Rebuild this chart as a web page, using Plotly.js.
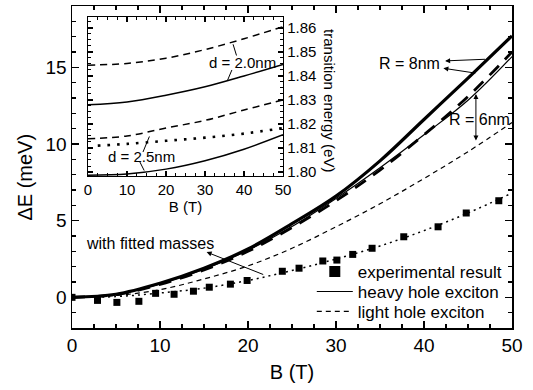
<!DOCTYPE html>
<html>
<head>
<meta charset="utf-8">
<script src="https://cdn.plot.ly/plotly-3.0.1.min.js"></script>
<style>html,body{margin:0;padding:0;background:#fff;}#chart{width:533px;height:390px;}</style>
</head>
<body>
<div id="chart"></div>
<script>
// Main panel data: energy shift (meV) vs magnetic field B (T)
const B = [0, 5, 10, 15, 20, 25, 30, 35, 40, 45, 50];
const hhR8 = [0, 0.2, 0.92, 1.9, 3.15, 4.8, 6.6, 8.9, 11.6, 14.3, 17.05];
const lhR8 = [0, 0.18, 0.85, 1.78, 3.0, 4.55, 6.3, 8.3, 10.6, 13.1, 16.0];
const hhR6 = [0, 0.19, 0.88, 1.83, 3.07, 4.62, 6.45, 8.45, 10.6, 12.85, 15.7];
const lhR6 = [0, 0.12, 0.5, 1.2, 2.05, 3.2, 4.6, 6.1, 7.75, 9.5, 11.4];
const fitted = [0, 0.05, 0.28, 0.6, 1.1, 1.75, 2.5, 3.35, 4.35, 5.5, 6.8];
const expB = [0, 2.9, 5.1, 7.6, 9.5, 11.6, 13.8, 15.6, 18.0, 19.9, 23.9, 25.8, 28.5, 30.1, 31.9, 34.1, 37.7, 41.6, 44.8, 48.5];
const expE = [0, -0.2, -0.33, -0.26, 0.26, 0.2, 0.4, 0.66, 0.86, 1.1, 1.7, 1.9, 2.37, 2.43, 2.8, 3.2, 3.95, 4.6, 5.5, 6.3];

// Inset data: transition energy (eV) vs B (T)
const Bi = [0, 10, 20, 30, 40, 50];
const lhD20 = [1.8445, 1.8452, 1.8474, 1.8510, 1.8555, 1.8605];
const hhD20 = [1.8280, 1.8292, 1.8320, 1.8355, 1.8400, 1.8448];
const lhD25 = [1.8138, 1.8150, 1.8183, 1.8215, 1.8258, 1.8300];
const hhD25 = [1.7987, 1.7992, 1.8012, 1.8047, 1.8095, 1.8155];
const dotB = [2.5, 10, 20, 30, 40, 50];
const dotD25 = [1.8110, 1.8117, 1.8130, 1.8143, 1.8160, 1.8183];

const legendNames = ['experimental result', 'heavy hole exciton', 'light hole exciton'];

const K = '#000';
const FONT = 'Arial, "Liberation Sans", Helvetica, sans-serif';

const traces = [
  // legend-only marker entry
  {x: [null], y: [null], mode: 'markers', name: legendNames[0], legend: 'legend',
   marker: {symbol: 'square', size: 11, color: K}, showlegend: true},
  {x: B, y: hhR6, mode: 'lines', name: legendNames[1], legend: 'legend2', line: {color: K, width: 1.2, shape: 'spline'}},
  {x: B, y: lhR6, mode: 'lines', name: legendNames[2], legend: 'legend3', line: {color: K, width: 1.2, dash: '5px,4px', shape: 'spline'}},
  {x: B, y: lhR8, mode: 'lines', showlegend: false, line: {color: K, width: 2.8, dash: '13px,9px', shape: 'spline'}},
  {x: B, y: hhR8, mode: 'lines', showlegend: false, line: {color: K, width: 3.2, shape: 'spline'}},
  {x: B, y: fitted, mode: 'lines', showlegend: false, line: {color: K, width: 1.5, dash: '2px,4px', shape: 'spline'}},
  {x: expB, y: expE, mode: 'markers', showlegend: false, marker: {symbol: 'square', size: 7, color: K}},
  // inset
  {x: Bi, y: lhD20, xaxis: 'x2', yaxis: 'y2', mode: 'lines', showlegend: false, line: {color: K, width: 1.5, dash: '7px,5px', shape: 'spline'}},
  {x: Bi, y: hhD20, xaxis: 'x2', yaxis: 'y2', mode: 'lines', showlegend: false, line: {color: K, width: 1.5, shape: 'spline'}},
  {x: Bi, y: lhD25, xaxis: 'x2', yaxis: 'y2', mode: 'lines', showlegend: false, line: {color: K, width: 1.5, dash: '7px,5px', shape: 'spline'}},
  {x: dotB, y: dotD25, xaxis: 'x2', yaxis: 'y2', mode: 'lines', showlegend: false, line: {color: K, width: 2.6, dash: '2.6px,7px', shape: 'spline'}},
  {x: Bi, y: hhD25, xaxis: 'x2', yaxis: 'y2', mode: 'lines', showlegend: false, line: {color: K, width: 1.5, shape: 'spline'}}
];

function ann(o) {
  return Object.assign({showarrow: false, xanchor: 'center', yanchor: 'middle',
                        font: {family: FONT, size: 16, color: K}}, o);
}
function lead(xr, yr, x, y, ax, ay, head, side) {
  return {xref: xr, yref: yr, axref: xr, ayref: yr, x: x, y: y, ax: ax, ay: ay, text: '',
          showarrow: true, arrowhead: head, arrowsize: 1, arrowwidth: 1, arrowcolor: K,
          arrowside: side || 'end', standoff: 0, startstandoff: 0};
}

const annotations = [
  ann({xref: 'paper', yref: 'paper', x: -0.107, y: 0.47, text: 'ΔE (meV)', textangle: -90,
       font: {family: FONT, size: 20, color: K}}),
  ann({xref: 'x', yref: 'y', x: 38.4, y: 15.27, text: 'R = 8nm'}),
  lead('x', 'y', 42.4, 15.42, 47.1, 15.53, 2),
  lead('x', 'y', 42.2, 14.94, 46.0, 14.61, 2),
  ann({xref: 'x', yref: 'y', x: 46.25, y: 11.63, text: 'R = 6nm'}),
  lead('x', 'y', 45.9, 13.26, 45.9, 10.13, 2, 'end+start'),
  ann({xref: 'x', yref: 'y', x: 8.86, y: 3.48, text: 'with fitted masses'}),
  lead('x', 'y', 15.3, 2.95, 21.9, 1.45, 2),
  // inset
  ann({xref: 'x2', yref: 'y2', x: 39.6, y: 1.8454, text: 'd = 2.0nm', font: {family: FONT, size: 15, color: K}}),
  lead('x2', 'y2', 37.2, 1.8532, 38.2, 1.8479, 0),
  lead('x2', 'y2', 36.9, 1.8425, 35.6, 1.8375, 0),
  ann({xref: 'x2', yref: 'y2', x: 13.7, y: 1.80625, text: 'd = 2.5nm', font: {family: FONT, size: 15, color: K}}),
  lead('x2', 'y2', 14.1, 1.80833, 15.9, 1.81542, 0),
  lead('x2', 'y2', 13.3, 1.80417, 14.6, 1.8000, 0),
  ann({xref: 'paper', yref: 'paper', x: 0.584, y: 0.705, text: 'transition energy (eV)', textangle: 90,
       font: {family: FONT, size: 15, color: K}})
];

const axisBase = {showgrid: false, zeroline: false, showline: true, linecolor: K, linewidth: 1.5,
                  ticks: 'inside', tickcolor: K, tickwidth: 1.2, mirror: 'allticks'};

function legendAt(yFrac) {
  return {x: 0.545, xanchor: 'left', y: yFrac, yanchor: 'middle', bgcolor: 'rgba(0,0,0,0)',
          font: {family: FONT, size: 17, color: K}, itemwidth: 36};
}

const layout = {
  width: 533, height: 390,
  margin: {l: 72, r: 21, t: 6, b: 62},
  paper_bgcolor: '#fff', plot_bgcolor: '#fff',
  font: {family: FONT, color: K},
  showlegend: true,
  legend: legendAt(0.174),
  legend2: legendAt(0.112),
  legend3: legendAt(0.050),
  xaxis: Object.assign({}, axisBase, {
    range: [0, 50], dtick: 10, ticklen: 7, tickfont: {size: 19, family: FONT},
    minor: {dtick: 2.5, ticklen: 4, ticks: 'inside', tickcolor: K, tickwidth: 1.2},
    title: {text: 'B (T)', font: {size: 20, family: FONT}, standoff: 9}
  }),
  yaxis: Object.assign({}, axisBase, {
    range: [-2, 19], dtick: 5, ticklen: 7, tickfont: {size: 19, family: FONT},
    minor: {dtick: 1, ticklen: 4, ticks: 'inside', tickcolor: K, tickwidth: 1.2}
  }),
  xaxis2: Object.assign({}, axisBase, {
    domain: [0.0364, 0.4795], anchor: 'y2', range: [0, 50], dtick: 10, ticklen: 5,
    tickfont: {size: 15, family: FONT}, linewidth: 1.3,
    minor: {dtick: 2.5, ticklen: 3, ticks: 'inside', tickcolor: K, tickwidth: 1},
    title: {text: 'B (T)', font: {size: 15, family: FONT}, standoff: 2}
  }),
  yaxis2: Object.assign({}, axisBase, {
    domain: [0.472, 0.966], anchor: 'x2', side: 'right', range: [1.79833, 1.86458], dtick: 0.01,
    tickformat: '.2f', ticklen: 5, tickfont: {size: 15, family: FONT}, linewidth: 1.3,
    minor: {dtick: 0.0025, ticklen: 3, ticks: 'inside', tickcolor: K, tickwidth: 1}
  }),
  annotations: annotations
};

Plotly.newPlot('chart', traces, layout, {displayModeBar: false, staticPlot: true});
</script>
</body>
</html>
